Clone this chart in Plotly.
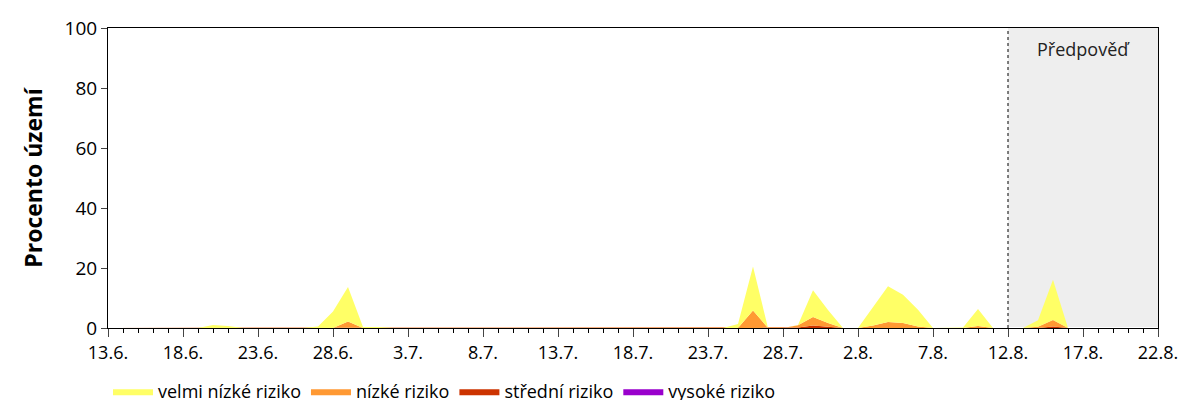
import plotly.graph_objects as go
import pandas as pd

dates = pd.date_range("2023-06-13", "2023-08-22", freq="D")
forecast_start = "2023-08-12"

tick_vals = pd.date_range("2023-06-13", "2023-08-22", freq="5D")
tick_text = [f"{d.day}.{d.month}." for d in tick_vals]

z = [0] * 10
velmi_nizke = ([0, 0, 0, 0, 0, 0, 0, 1, 0.7, 0]
               + [0, 0, 0, 0, 0.5, 5.5, 11.5, 0.3, 0.3, 0]
               + z + z
               + [0, 0, 1.3, 14.7, 0, 0, 0.1, 8.9, 4.3, 0]
               + [0, 6.0, 11.9, 9.4, 5.6, 0, 0, 0.2, 5.6, 0]
               + [0, 0, 2.2, 13.4, 0, 0, 0, 0, 0, 0, 0])
nizke = (z
         + [0, 0, 0, 0, 0, 0, 2.2, 0, 0, 0]
         + z + z
         + [0, 0, 0, 5.8, 0, 0, 0.7, 2.9, 1.4, 0]
         + [0, 0.8, 2.0, 1.7, 0.5, 0, 0, 0, 0.7, 0]
         + [0, 0, 0.4, 2.2, 0, 0, 0, 0, 0, 0, 0])
stredni = (z + z + z + z
           + [0, 0, 0, 0, 0, 0, 0.2, 0.8, 0.3, 0]
           + z
           + [0, 0, 0, 0.5, 0, 0, 0, 0, 0, 0, 0])
vysoke = [0] * 71

series = [
    ("vysoké riziko", vysoke, "#9900CC"),
    ("střední riziko", stredni, "#CC3300"),
    ("nízké riziko", nizke, "#FF9933"),
    ("velmi nízké riziko", velmi_nizke, "#FFFF66"),
]

fig = go.Figure()
for name, vals, color in series:
    fig.add_trace(go.Scatter(x=dates, y=vals, name=name, mode="lines",
                             stackgroup="one", line=dict(width=0, color=color),
                             fillcolor=color))

fig.add_vrect(x0=forecast_start, x1=dates[-1], fillcolor="#EEEEEE",
              line_width=0, layer="below")
fig.add_vline(x=forecast_start, line=dict(color="black", width=1, dash="dot"))
fig.add_annotation(x=pd.Timestamp("2023-08-17"), y=93, text="Předpověď",
                   showarrow=False, font=dict(size=18, color="#222"))

fig.update_layout(
    width=1200, height=400,
    paper_bgcolor="white", plot_bgcolor="white",
    margin=dict(l=100, r=50, t=20, b=80, autoexpand=False),
    font=dict(family="Open Sans", color="black"),
    showlegend=True,
    legend=dict(orientation="h", traceorder="reversed", x=0.0, xanchor="left",
                y=-0.15, yanchor="top", font=dict(size=18), itemwidth=40),
)
fig.update_xaxes(range=[dates[0], dates[-1]], tickvals=tick_vals, ticktext=tick_text,
                 ticks="outside", ticklen=8, showline=True, linecolor="black",
                 mirror=True, showgrid=False, tickfont=dict(size=18),
                 minor=dict(dtick=86400000, ticks="outside", ticklen=4,
                            tickcolor="black", showgrid=False))
fig.update_yaxes(range=[0, 100], dtick=20, ticks="outside", ticklen=6,
                 showline=True, linecolor="black", mirror=True, showgrid=False,
                 tickfont=dict(size=19),
                 title=dict(text="<b>Procento území</b>", font=dict(size=23)))

fig.write_html("out.html")
